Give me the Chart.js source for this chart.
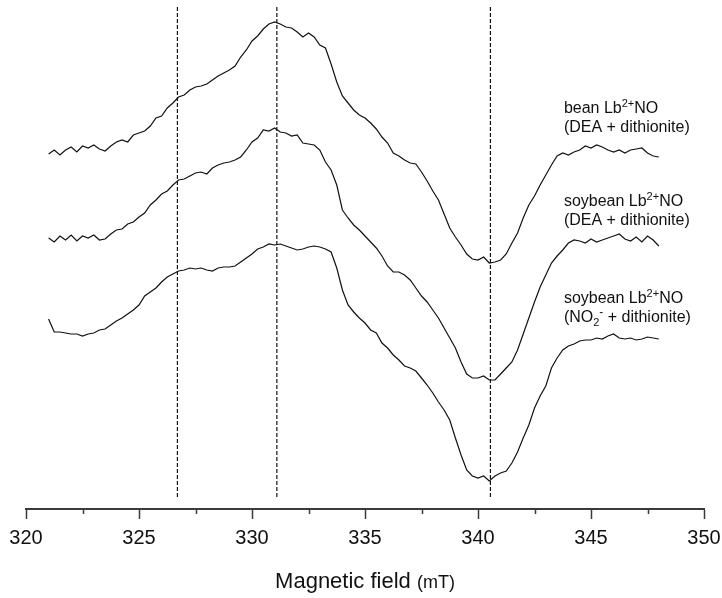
<!DOCTYPE html>
<html lang="en">
<head>
<meta charset="UTF-8">
<title>Lb2+NO EPR spectra</title>
<script src="https://cdn.jsdelivr.net/npm/chart.js"></script>
<style>
  html, body { margin: 0; padding: 0; background: #fff; }
  #wrap { width: 722px; height: 598px; position: relative; }
</style>
</head>
<body>
<div id="wrap"><canvas id="eprChart"></canvas></div>
<script>
// Magnetic field (mT), shared by all three spectra
const field = [
  321.00, 321.25, 321.50, 321.75, 322.00, 322.25, 322.50, 322.75, 323.00, 323.25,
  323.50, 323.75, 324.00, 324.25, 324.50, 324.75, 325.00, 325.25, 325.50, 325.75,
  326.00, 326.25, 326.50, 326.75, 327.00, 327.25, 327.50, 327.75, 328.00, 328.25,
  328.50, 328.75, 329.00, 329.25, 329.50, 329.75, 330.00, 330.25, 330.50, 330.75,
  331.00, 331.25, 331.50, 331.75, 332.00, 332.25, 332.50, 332.75, 333.00, 333.25,
  333.50, 333.75, 334.00, 334.25, 334.50, 334.75, 335.00, 335.25, 335.50, 335.75,
  336.00, 336.25, 336.50, 336.75, 337.00, 337.25, 337.50, 337.75, 338.00, 338.25,
  338.50, 338.75, 339.00, 339.25, 339.50, 339.75, 340.00, 340.25, 340.50, 340.75,
  341.00, 341.25, 341.50, 341.75, 342.00, 342.25, 342.50, 342.75, 343.00, 343.25,
  343.50, 343.75, 344.00, 344.25, 344.50, 344.75, 345.00, 345.25, 345.50, 345.75,
  346.00, 346.25, 346.50, 346.75, 347.00, 347.25, 347.50, 347.75, 348.00
];

// signal (arbitrary units, traces offset vertically)
const beanDEA = [
  356, 360, 355, 360, 363, 358, 364, 362, 365, 361,
  359, 364, 368, 370, 368, 375, 377, 379, 384, 392,
  394, 402, 407, 413, 415, 420, 423, 424, 426, 430,
  434, 437, 440, 444, 453, 460, 469, 474, 481, 486,
  488, 486, 483, 482, 478, 473, 477, 473, 465, 462,
  446, 428, 414, 407, 400, 395, 392, 387, 381, 373,
  367, 357, 354, 350, 347, 346, 338, 329, 319, 310,
  296, 282, 273, 265, 256, 251, 250, 253, 247, 248,
  250, 256, 267, 277, 292, 305, 314, 325, 335, 345,
  354, 357, 355, 358, 360, 364, 362, 365, 363, 360,
  358, 360, 357, 360, 361, 362, 357, 354, 353
];

const soyDEA = [
  272, 268, 274, 270, 275, 269, 274, 272, 275, 270,
  271, 276, 280, 281, 286, 288, 293, 297, 305, 310,
  316, 319, 325, 330, 331, 334, 337, 338, 336, 342,
  345, 347, 348, 350, 353, 360, 368, 372, 380, 379,
  382, 378, 377, 374, 375, 367, 366, 365, 360, 348,
  340, 325, 300, 292, 285, 280, 274, 268, 262, 254,
  244, 238, 238, 235, 230, 222, 214, 208, 200, 192,
  182, 172, 162, 148, 136, 132, 132, 134, 130, 130,
  136, 142, 148, 160, 176, 192, 208, 223, 235, 247,
  254, 260, 267, 270, 269, 267, 271, 268, 270, 272,
  274, 276, 271, 269, 273, 268, 274, 270, 264
];

const soyNitrite = [
  191, 178, 178, 177, 176, 176, 174, 176, 177, 180,
  181, 185, 189, 192, 196, 200, 205, 214, 218, 222,
  228, 233, 236, 239, 240, 242, 241, 242, 240, 239,
  242, 243, 243, 244, 248, 252, 256, 261, 263, 266,
  265, 266, 264, 262, 260, 261, 263, 264, 263, 261,
  258, 242, 220, 205, 198, 192, 187, 180, 177, 167,
  162, 155, 150, 144, 142, 139, 132, 125, 117, 108,
  100, 90, 72, 55, 40, 34, 32, 34, 29, 34,
  37, 39, 47, 58, 72, 85, 102, 114, 124, 142,
  152, 160, 164, 166, 169, 170, 170, 172, 171, 174,
  176, 172, 171, 172, 170, 171, 173, 172, 171
];

// dashed reference lines (mT)
const markerFields = [326.7, 331.1, 340.55];

const xTicksMajor = [320, 325, 330, 335, 340, 345, 350];

const FONT = '"Liberation Sans", Arial, Helvetica, sans-serif';
const INK = '#111';
const AXIS = '#3a3a3a';

function toPoints(ys) {
  return ys.map((y, i) => ({ x: field[i], y: y }));
}

const traceStyle = {
  borderColor: INK,
  borderWidth: 1.2,
  pointRadius: 0,
  tension: 0,
  fill: false
};

const datasets = [
  Object.assign({ label: 'bean Lb2+NO (DEA + dithionite)', data: toPoints(beanDEA) }, traceStyle),
  Object.assign({ label: 'soybean Lb2+NO (DEA + dithionite)', data: toPoints(soyDEA) }, traceStyle),
  Object.assign({ label: 'soybean Lb2+NO (NO2- + dithionite)', data: toPoints(soyNitrite) }, traceStyle)
];
markerFields.forEach(f => {
  datasets.push({
    label: 'marker ' + f,
    data: [{ x: f, y: 13 }, { x: f, y: 505 }],
    borderColor: INK,
    borderWidth: 1.2,
    borderDash: [4, 2],
    pointRadius: 0,
    fill: false
  });
});

// draws a line of text with super/subscripts
function drawRich(ctx, parts, x, y) {
  let cx = x;
  parts.forEach(p => {
    const size = p.size || 16;
    ctx.font = size + 'px ' + FONT;
    ctx.fillText(p.t, cx, y + (p.dy || 0));
    cx += ctx.measureText(p.t).width;
  });
}

const labels = [
  { at: 343.8, y: 397, parts: [{ t: 'bean Lb' }, { t: '2+', size: 11, dy: -6 }, { t: 'NO' }] },
  { at: 343.8, y: 378, parts: [{ t: '(DEA + dithionite)' }] },
  { at: 343.8, y: 304, parts: [{ t: 'soybean Lb' }, { t: '2+', size: 11, dy: -6 }, { t: 'NO' }] },
  { at: 343.8, y: 285, parts: [{ t: '(DEA + dithionite)' }] },
  { at: 343.8, y: 207, parts: [{ t: 'soybean Lb' }, { t: '2+', size: 11, dy: -6 }, { t: 'NO' }] },
  { at: 343.8, y: 188, parts: [{ t: '(NO' }, { t: '2', size: 11, dy: 4 }, { t: '-', size: 12, dy: -6 }, { t: ' + dithionite)' }] }
];

const annotate = {
  id: 'annotate',
  afterDraw(chart) {
    const ctx = chart.ctx;
    const xs = chart.scales.x;
    const ys = chart.scales.y;
    const area = chart.chartArea;
    ctx.save();

    // minor ticks
    ctx.strokeStyle = AXIS;
    ctx.lineWidth = 1.5;
    for (let v = 322.5; v < 350; v += 5) {
      const px = Math.round(xs.getPixelForValue(v)) + 0.5;
      ctx.beginPath();
      ctx.moveTo(px, area.bottom);
      ctx.lineTo(px, area.bottom + 5);
      ctx.stroke();
    }

    // trace labels
    ctx.fillStyle = INK;
    ctx.textBaseline = 'alphabetic';
    ctx.textAlign = 'left';
    labels.forEach(l => drawRich(ctx, l.parts, xs.getPixelForValue(l.at), ys.getPixelForValue(l.y)));

    // axis title
    ctx.font = '22px ' + FONT;
    const w1 = ctx.measureText('Magnetic field ').width;
    ctx.font = '18px ' + FONT;
    const w2 = ctx.measureText('(mT)').width;
    const start = (area.left + area.right) / 2 - (w1 + w2) / 2;
    ctx.font = '22px ' + FONT;
    ctx.fillText('Magnetic field ', start, 588);
    ctx.font = '18px ' + FONT;
    ctx.fillText('(mT)', start + w1, 588);
    ctx.restore();
  }
};

new Chart(document.getElementById('eprChart'), {
  type: 'line',
  data: { datasets: datasets },
  options: {
    responsive: true,
    maintainAspectRatio: false,
    animation: false,
    layout: { padding: { left: 26, right: 18, top: 5, bottom: 0 } },
    plugins: {
      legend: { display: false },
      tooltip: { enabled: false }
    },
    scales: {
      x: {
        type: 'linear',
        min: 320,
        max: 350,
        afterBuildTicks: scale => {
          scale.ticks = xTicksMajor.map(v => ({ value: v }));
        },
        afterFit: scale => {
          scale.height = 89;
          scale.paddingLeft = 0;
          scale.paddingRight = 0;
        },
        ticks: {
          autoSkip: false,
          maxRotation: 0,
          padding: 7,
          color: INK,
          font: { family: FONT, size: 20 }
        },
        grid: {
          display: true,
          drawOnChartArea: false,
          drawTicks: true,
          tickLength: 10,
          tickWidth: 1.5,
          tickColor: AXIS
        },
        border: { display: true, color: AXIS, width: 2 }
      },
      y: {
        display: false,
        min: 1,
        max: 505
      }
    }
  },
  plugins: [annotate]
});
</script>
</body>
</html>
